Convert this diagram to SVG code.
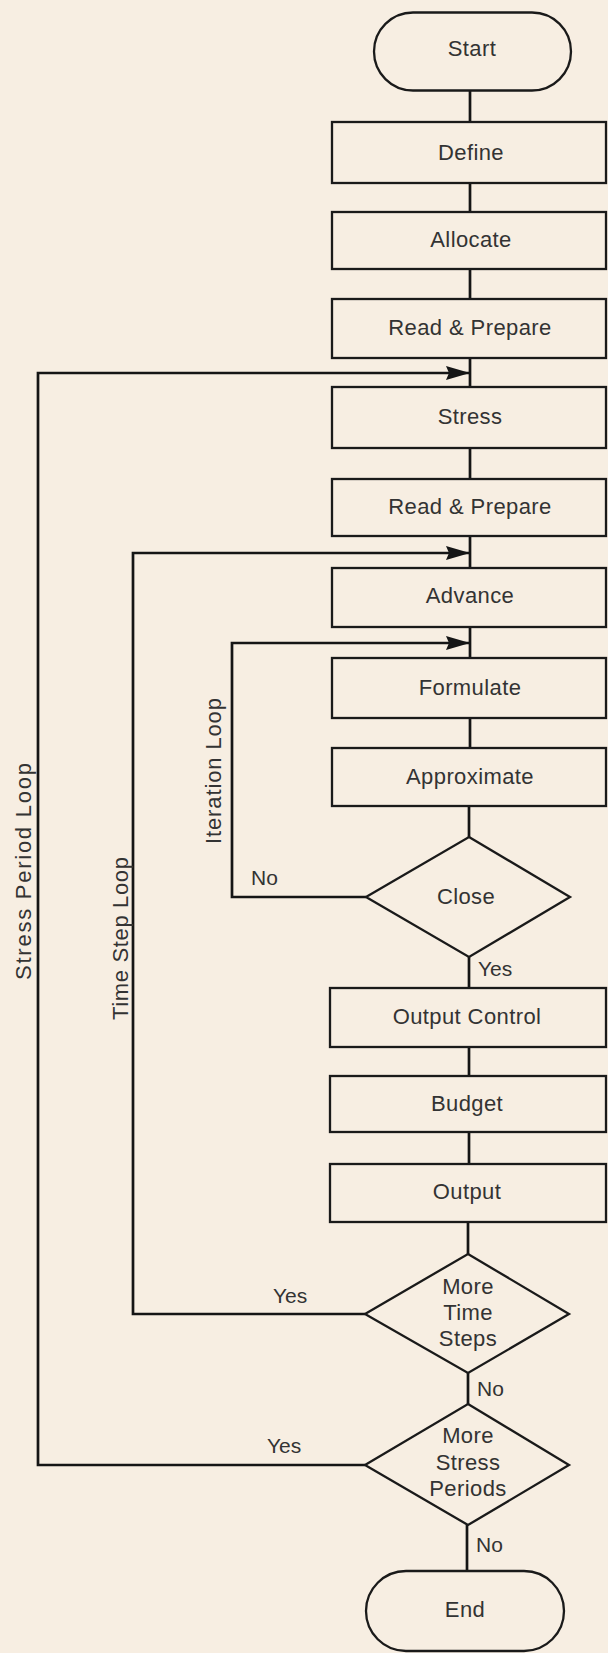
<svg xmlns="http://www.w3.org/2000/svg" width="608" height="1653" viewBox="0 0 608 1653">
<defs>
<style>
.bg{fill:#f7eee2}
.shape{fill:none;stroke:#1a1a1a;stroke-width:2.3}
.conn{fill:none;stroke:#151515;stroke-width:2.7}
.lbl{font-family:"Liberation Sans",Arial,sans-serif;font-size:22px;fill:#333;text-anchor:middle;letter-spacing:0.4px}
.sm{font-family:"Liberation Sans",Arial,sans-serif;font-size:21px;fill:#333}
.loop{font-family:"Liberation Sans",Arial,sans-serif;font-size:22px;fill:#333;text-anchor:middle}
</style>
<marker id="arr" viewBox="0 0 24 14" refX="23" refY="7" markerWidth="24" markerHeight="14" markerUnits="userSpaceOnUse" orient="auto">
<path d="M0,0 L24,7 L0,14 L3,7 z" fill="#151515"/>
</marker>
</defs>
<rect class="bg" x="0" y="0" width="608" height="1653"/>

<g id="connectors">
<path class="conn" d="M470,91 V122"/>
<path class="conn" d="M470,183 V212"/>
<path class="conn" d="M470,269 V299"/>
<path class="conn" d="M470,358 V387"/>
<path class="conn" d="M470,448 V479"/>
<path class="conn" d="M470,536 V568"/>
<path class="conn" d="M470,627 V658"/>
<path class="conn" d="M470,718 V748"/>
<path class="conn" d="M469,806 V837"/>
<path class="conn" d="M469,957 V988"/>
<path class="conn" d="M469,1047 V1076"/>
<path class="conn" d="M469,1132 V1164"/>
<path class="conn" d="M468,1222 V1254"/>
<path class="conn" d="M468,1373 V1404"/>
<path class="conn" d="M467,1525 V1571"/>
<path class="conn" d="M366,897 H232 V643 H469" marker-end="url(#arr)"/>
<path class="conn" d="M365,1314 H133 V553 H469" marker-end="url(#arr)"/>
<path class="conn" d="M365,1465 H38 V373 H469" marker-end="url(#arr)"/>
</g>

<g id="loop-labels">
<text class="loop" transform="translate(31,871.5) rotate(-90)" textLength="217" lengthAdjust="spacing">Stress Period Loop</text>
<text class="loop" transform="translate(128,938.5) rotate(-90)" textLength="163" lengthAdjust="spacing">Time Step Loop</text>
<text class="loop" transform="translate(220.5,771) rotate(-90)" textLength="146" lengthAdjust="spacing">Iteration Loop</text>
</g>

<g id="edge-labels">
<text class="sm" x="251" y="885">No</text>
<text class="sm" x="478" y="976">Yes</text>
<text class="sm" x="273" y="1303">Yes</text>
<text class="sm" x="477" y="1396">No</text>
<text class="sm" x="267" y="1453">Yes</text>
<text class="sm" x="476" y="1552">No</text>
</g>

<g id="start">
<rect class="shape" x="374" y="12.5" width="197" height="78" rx="39" ry="39"/>
<text class="lbl" x="472" y="56">Start</text>
</g>
<g id="define">
<rect class="shape" x="332" y="122" width="274" height="61"/>
<text class="lbl" x="471" y="160">Define</text>
</g>
<g id="allocate">
<rect class="shape" x="332" y="212" width="274" height="57"/>
<text class="lbl" x="471" y="247">Allocate</text>
</g>
<g id="read-prepare-1">
<rect class="shape" x="332" y="299" width="274" height="59"/>
<text class="lbl" x="470" y="335">Read &amp; Prepare</text>
</g>
<g id="stress">
<rect class="shape" x="332" y="387" width="274" height="61"/>
<text class="lbl" x="470" y="424">Stress</text>
</g>
<g id="read-prepare-2">
<rect class="shape" x="332" y="479" width="274" height="57"/>
<text class="lbl" x="470" y="514">Read &amp; Prepare</text>
</g>
<g id="advance">
<rect class="shape" x="332" y="568" width="274" height="59"/>
<text class="lbl" x="470" y="603">Advance</text>
</g>
<g id="formulate">
<rect class="shape" x="332" y="658" width="274" height="60"/>
<text class="lbl" x="470" y="695">Formulate</text>
</g>
<g id="approximate">
<rect class="shape" x="332" y="748" width="274" height="58"/>
<text class="lbl" x="470" y="784">Approximate</text>
</g>
<g id="close">
<polygon class="shape" points="469,837 570,897 469,957 366,897"/>
<text class="lbl" x="466" y="904">Close</text>
</g>
<g id="output-control">
<rect class="shape" x="330" y="988" width="276" height="59"/>
<text class="lbl" x="467" y="1024">Output Control</text>
</g>
<g id="budget">
<rect class="shape" x="330" y="1076" width="276" height="56"/>
<text class="lbl" x="467" y="1111">Budget</text>
</g>
<g id="output">
<rect class="shape" x="330" y="1164" width="276" height="58"/>
<text class="lbl" x="467" y="1199">Output</text>
</g>
<g id="more-time-steps">
<polygon class="shape" points="468,1254 569,1314 468,1373 365,1314"/>
<text class="lbl" x="468" y="1294">More</text>
<text class="lbl" x="468" y="1320">Time</text>
<text class="lbl" x="468" y="1346">Steps</text>
</g>
<g id="more-stress-periods">
<polygon class="shape" points="468,1404 569,1465 468,1525 365,1465"/>
<text class="lbl" x="468" y="1443">More</text>
<text class="lbl" x="468" y="1470">Stress</text>
<text class="lbl" x="468" y="1496">Periods</text>
</g>
<g id="end">
<rect class="shape" x="366" y="1571" width="198" height="80" rx="40" ry="40"/>
<text class="lbl" x="465" y="1617">End</text>
</g>
</svg>
